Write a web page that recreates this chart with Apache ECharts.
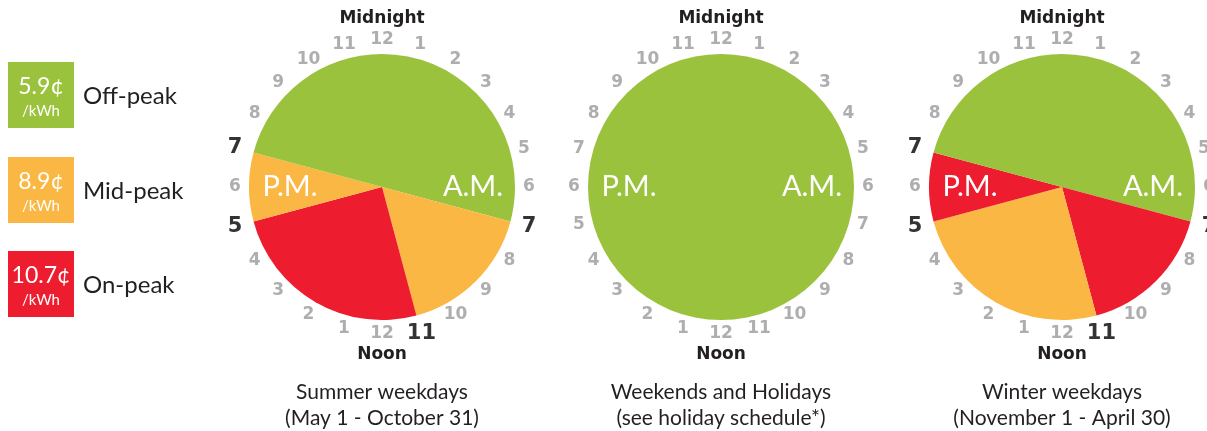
<!DOCTYPE html>
<html>
<head>
<meta charset="utf-8">
<script src="https://cdn.jsdelivr.net/npm/echarts@6/dist/echarts.min.js"></script>
<style>
  html, body { margin: 0; padding: 0; background: #fff; }
  #chart { width: 1207px; height: 431px; }
</style>
</head>
<body>
<div id="chart"></div>
<script>
// hour ticks round the 24h clock, midnight on top
const hourLabels = ['12', '1', '2', '3', '4', '5', '6', '7', '8', '9', '10', '11',
                    '12', '1', '2', '3', '4', '5', '6', '7', '8', '9', '10', '11'];

// price legend
const rateNames = ['Off-peak', 'Mid-peak', 'On-peak'];
const rateValues = ['5.9¢', '8.9¢', '10.7¢'];
const rateUnit = '/kWh';

// periods from midnight, clockwise, in hours
const summerPeriods = ['Off-peak', 'Mid-peak', 'On-peak', 'Mid-peak', 'Off-peak'];
const summerHours = [7, 4, 6, 2, 5];
const weekendPeriods = ['Off-peak'];
const weekendHours = [24];
const winterPeriods = ['Off-peak', 'On-peak', 'Mid-peak', 'On-peak', 'Off-peak'];
const winterHours = [7, 4, 6, 2, 5];

const captionTitles = ['Summer weekdays', 'Weekends and Holidays', 'Winter weekdays'];
const captionDates = ['(May 1 - October 31)', '(see holiday schedule*)', '(November 1 - April 30)'];

const colors = { 'Off-peak': '#9BC23D', 'Mid-peak': '#FBB743', 'On-peak': '#ED1C2E' };
const GREY = '#9A9A9C';
const DARK = '#231F20';
const FONT = 'Lato, "Noto Sans", sans-serif';
const DIGITS = '"DejaVu Sans", sans-serif';

const clocks = [
  { periods: summerPeriods, hours: summerHours },
  { periods: weekendPeriods, hours: weekendHours },
  { periods: winterPeriods, hours: winterHours }
];
const centersX = [382, 721, 1062];
const CY = 187;
const R = 133;
const LABEL_R = 147;
const R_MAX = 1.1; // radius axis headroom so bold labels can sit a bit further out

// hours where a period changes (not midnight) get the bold black label
function boundaries(hours) {
  const out = [];
  let acc = 0;
  hours.forEach((h) => {
    acc += h;
    if (acc % 24 !== 0) out.push(acc);
  });
  return out;
}

const chart = echarts.init(document.getElementById('chart'));

const polar = [];
const angleAxis = [];
const radiusAxis = [];
const series = [];
const graphic = [];

function txt(x, y, text, font, fill, align) {
  return {
    type: 'text', x: x, y: y, z: 100,
    style: { text: text, font: font, fill: fill, align: align || 'center', verticalAlign: 'middle' }
  };
}

clocks.forEach((c, i) => {
  const cx = centersX[i];
  const bold = boundaries(c.hours);

  series.push({
    type: 'pie',
    center: [cx, CY],
    radius: R,
    startAngle: 90,
    clockwise: true,
    silent: true,
    animation: false,
    z: 1,
    label: { show: false },
    labelLine: { show: false },
    emphasis: { disabled: true },
    itemStyle: { borderWidth: 0 },
    data: c.periods.map((p, k) => ({
      name: p,
      value: c.hours[k],
      itemStyle: { color: colors[p] }
    }))
  });

  polar.push({ center: [cx, CY], radius: LABEL_R * R_MAX });
  angleAxis.push({ polarIndex: i, type: 'value', min: 0, max: 24, startAngle: 90, clockwise: true, show: false });
  radiusAxis.push({ polarIndex: i, type: 'value', min: 0, max: R_MAX, show: false });

  series.push({
    type: 'scatter',
    coordinateSystem: 'polar',
    polarIndex: i,
    symbolSize: 1,
    silent: true,
    animation: false,
    itemStyle: { color: 'rgba(0,0,0,0)' },
    data: hourLabels.map((t, h) => ({
      name: t,
      value: [bold.indexOf(h) >= 0 ? 1.035 : 1, h],
      hot: bold.indexOf(h) >= 0
    })),
    label: {
      show: true,
      position: 'inside',
      formatter: (p) => (p.data.hot ? '{b|' + p.name + '}' : '{g|' + p.name + '}'),
      rich: {
        g: { color: GREY, fontSize: 17, fontWeight: 'bold', fontFamily: DIGITS },
        b: { color: '#000', fontSize: 21, fontWeight: 'bold', fontFamily: DIGITS }
      }
    },
    labelLayout: { hideOverlap: false }
  });

  graphic.push(
    txt(cx, 19, 'Midnight', 'bold 17px ' + DIGITS, DARK),
    txt(cx, 355, 'Noon', 'bold 17px ' + DIGITS, DARK),
    txt(cx - 92, CY, 'P.M.', '29px ' + FONT, '#fff'),
    txt(cx + 91, CY, 'A.M.', '29px ' + FONT, '#fff'),
    txt(cx, 392, captionTitles[i], '21px ' + FONT, DARK),
    txt(cx, 418, captionDates[i], '21px ' + FONT, DARK)
  );
});

// legend boxes
const legendTops = [62, 157, 251];
rateNames.forEach((name, k) => {
  const top = legendTops[k];
  graphic.push(
    { type: 'rect', z: 50, shape: { x: 8, y: top, width: 66, height: 66 }, style: { fill: colors[name] } },
    txt(41, top + 25, rateValues[k], '23px ' + FONT, '#fff'),
    txt(41, top + 49, rateUnit, '15px ' + FONT, '#fff'),
    txt(83, top + 34, name, '24px ' + FONT, DARK, 'left')
  );
});

chart.setOption({
  animation: false,
  polar: polar,
  angleAxis: angleAxis,
  radiusAxis: radiusAxis,
  series: series,
  graphic: graphic
});
</script>
</body>
</html>
